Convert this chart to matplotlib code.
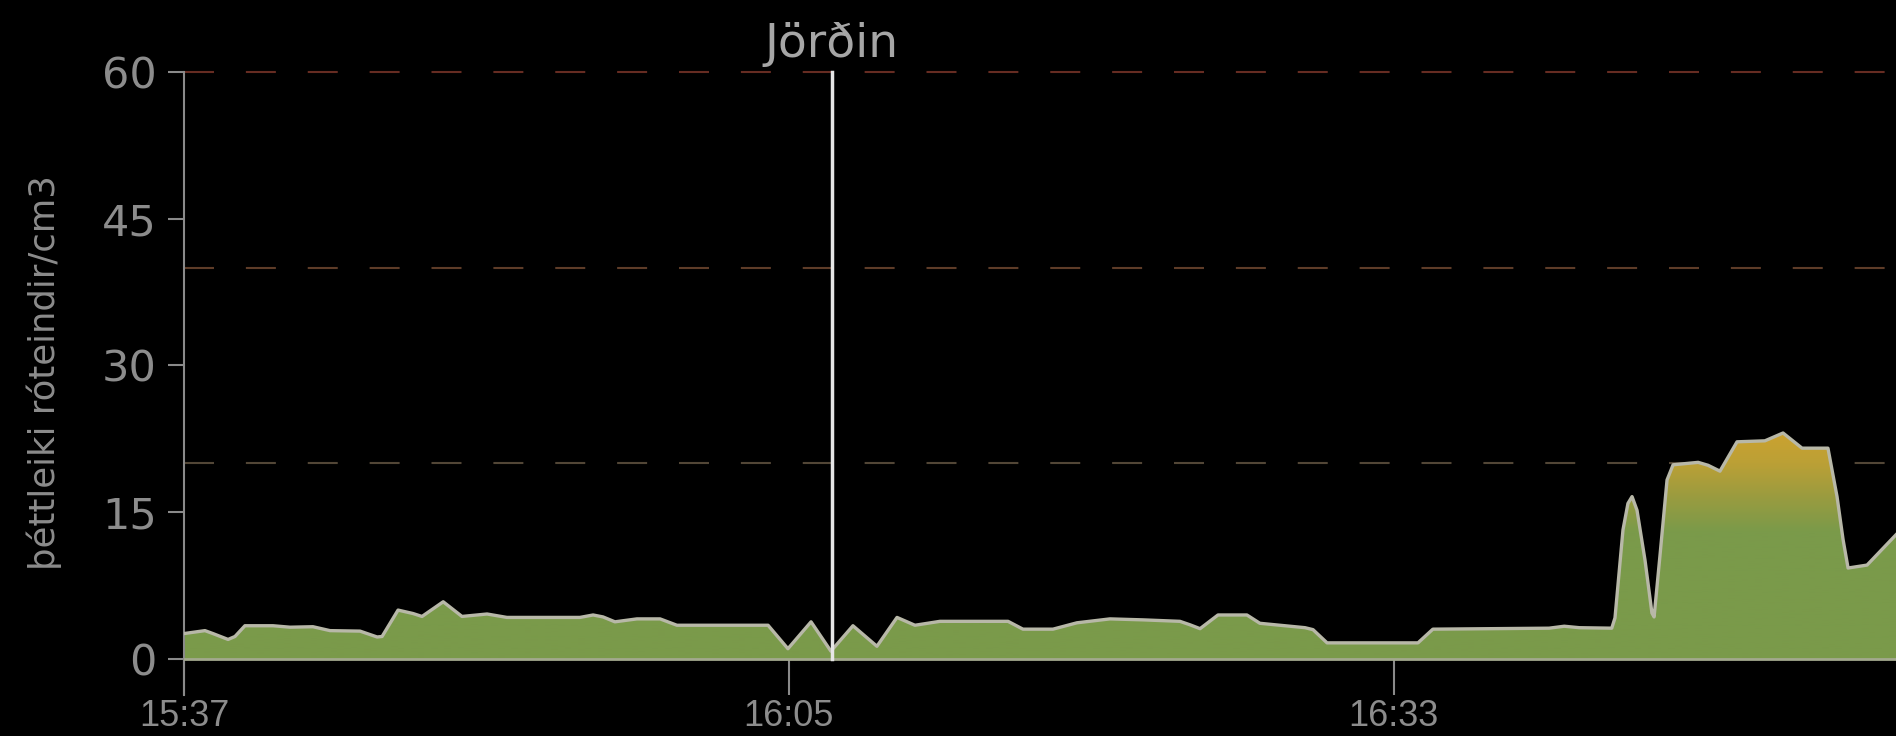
import numpy as np
import matplotlib
matplotlib.use("Agg")
import matplotlib.pyplot as plt
from matplotlib.colors import LinearSegmentedColormap

# minutes after 15:37 and particle density (róteindir/cm3)
minutes = [0.0, 0.97, 1.34, 2.04, 2.36, 2.82, 4.12, 4.91, 5.97, 6.76,
           8.15, 8.94, 9.17, 9.91, 10.6, 11.02, 12.0, 12.87, 14.03, 14.95,
           18.33, 18.94, 19.4, 19.95, 20.97, 22.04, 22.82, 27.04, 27.96, 29.03,
           29.95, 30.97, 32.08, 33.01, 33.84, 35.0, 38.15, 38.84, 40.23, 41.34,
           42.87, 44.4, 46.11, 46.57, 47.04, 47.87, 49.21, 49.81, 51.9, 52.27,
           52.92, 57.13, 57.82, 63.2, 63.9, 64.6, 66.1, 66.25, 66.62, 66.85,
           67.04, 67.27, 67.64, 67.96, 68.06, 68.33, 68.66, 68.94, 70.1, 70.56,
           71.11, 71.9, 73.19, 74.03, 74.91, 76.11, 76.53, 76.81, 77.04, 77.92,
           79.26]
density = [2.6, 2.9, 2.6, 2.0, 2.3, 3.4, 3.4, 3.25, 3.3, 2.9,
           2.85, 2.25, 2.3, 5.0, 4.65, 4.35, 5.85, 4.35, 4.6, 4.25,
           4.25, 4.5, 4.3, 3.8, 4.1, 4.1, 3.45, 3.45, 1.05, 3.8,
           0.8, 3.4, 1.3, 4.25, 3.45, 3.85, 3.85, 3.05, 3.05, 3.7,
           4.1, 4.0, 3.85, 3.5, 3.1, 4.5, 4.5, 3.65, 3.2, 3.0,
           1.65, 1.65, 3.05, 3.15, 3.35, 3.2, 3.15, 4.2, 13.2, 15.9,
           16.6, 15.2, 10.1, 4.7, 4.3, 10.5, 18.3, 19.85, 20.1, 19.8,
           19.2, 22.2, 22.3, 23.1, 21.55, 21.55, 16.6, 12.2, 9.3, 9.6,
           12.7]

tick_pos = [0, 28, 56]
tick_labels = ["15:37", "16:05", "16:33"]
y_ticks = [0, 15, 30, 45, 60]
levels = [20, 40, 60]
level_colors = ["#524636", "#5e3c28", "#662c22"]
event_min = 30.0
event_name = "Jörðin"

W, H = 1896, 736
fig = plt.figure(figsize=(W / 100, H / 100), dpi=100, facecolor="black")
ax = fig.add_axes([184 / W, 1 - 695 / H, 1 - 184 / W, (695 - 72) / H])
ax.set_facecolor("black")

for lv, c in zip(levels, level_colors):
    ax.axhline(lv, color=c, lw=1.5, dashes=(14.4, 15.3), zorder=1, clip_on=False)

# area with a vertical green -> gold gradient
fill = ax.fill_between(minutes, density, 0, color="none", lw=0, zorder=2)
cmap = LinearSegmentedColormap.from_list(
    "dens", [(0, "#7a9a4a"), (13 / 24, "#7a9a4a"), (17 / 24, "#9e9c3e"),
             (20 / 24, "#bba036"), (1, "#d0a32e")])
grad = np.linspace(0, 1, 256)[:, None]
im = ax.imshow(grad, cmap=cmap, origin="lower", aspect="auto",
               extent=[0, 79.26, 0, 24], zorder=2, interpolation="bilinear")
im.set_clip_path(fill.get_paths()[0], transform=ax.transData)
ax.set_xlim(0, 79.26)
ax.set_ylim(-3.68, 60)

ax.plot(minutes, density, color="#b8b8a8", lw=2.4, zorder=3, solid_joinstyle="round")
ax.axhline(0, color="#a3a98e", lw=2, zorder=3)

ax.plot([event_min, event_min], [0, 60], color="#e6e6e6", lw=2.5, zorder=4, clip_on=False)
fig.text((184 + event_min * 21.6) / W, 1 - 57 / H, event_name, ha="center", va="baseline",
         fontsize=34, color="#a6a6a6")

for s in ["top", "right", "bottom"]:
    ax.spines[s].set_visible(False)
ax.spines["bottom"].set_position(("data", 0))
ax.spines["left"].set_color("#8a8a8a")
ax.spines["left"].set_linewidth(1.5)

ax.set_yticks(y_ticks)
ax.set_yticklabels([str(v) for v in y_ticks])
ax.tick_params(axis="y", length=11.5, width=1.5, color="#8a8a8a",
               labelsize=31, labelcolor="#8c8c8c", pad=8)
ax.set_xticks(tick_pos)
ax.set_xticklabels(tick_labels, family="Liberation Sans")
ax.tick_params(axis="x", length=26, width=1.5, color="#8a8a8a",
               labelsize=26, labelcolor="#8c8c8c", pad=3)

ax.set_ylabel("þéttleiki róteindir/cm3", fontsize=25.5, color="#8c8c8c")
ax.yaxis.set_label_coords(-0.071, 0.517)

fig.savefig("out.png", dpi=100, facecolor="black")
